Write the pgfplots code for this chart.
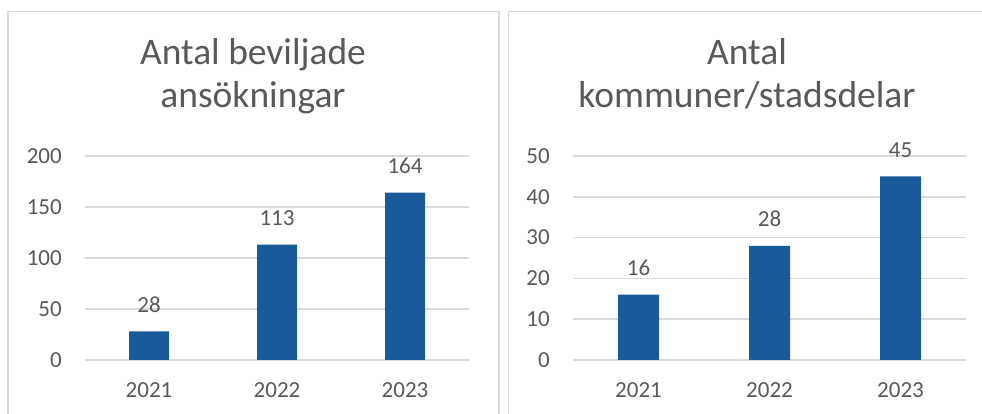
\documentclass[border=0pt]{standalone}
\usepackage{fontspec}
\setmainfont{Carlito}
\usepackage{pgfplots}
\pgfplotsset{compat=1.18}
\definecolor{barblue}{HTML}{195A9A}
\definecolor{txtgray}{HTML}{595959}
\definecolor{gridgray}{HTML}{D9D9D9}
\pgfplotsset{
  mybars/.style={
    ybar, scale only axis, enlargelimits=false, clip=false,
    xmin=-0.5, xmax=2.5, ymin=0,
    xtick={0,1,2}, xticklabels={2021,2022,2023},
    axis line style={draw=none}, major tick length=0pt,
    ymajorgrids, grid style={gridgray, line width=1.5pt},
    tick label style={text=txtgray, font=\fontsize{23}{27}\selectfont},
    /pgf/number format/assume math mode=true,
    yticklabel style={anchor=east, inner sep=0pt, xshift=-23pt},
    xticklabel style={anchor=base, inner sep=0pt, yshift=-38pt},
    nodes near coords,
    nodes near coords style={anchor=base, inner sep=0pt, yshift=19pt, text=txtgray, font=\fontsize{23}{27}\selectfont},
  }
}
\begin{document}
\begin{tikzpicture}[x=1pt,y=1pt]
\clip (0pt,0pt) rectangle (982pt,414pt);
\draw[gridgray, line width=1.5pt] (8pt,-20pt) rectangle (499pt,402.5pt);
\draw[gridgray, line width=1.5pt] (508.5pt,-20pt) rectangle (1000pt,402.5pt);
\node[anchor=base, text=txtgray, font=\fontsize{37.5}{45}\selectfont, inner sep=0pt] at (253pt,349pt) {Antal beviljade};
\node[anchor=base, text=txtgray, font=\fontsize{37.5}{45}\selectfont, inner sep=0pt] at (253pt,306pt) {ansökningar};
\node[anchor=base, text=txtgray, font=\fontsize{37.5}{45}\selectfont, inner sep=0pt] at (747pt,349pt) {Antal};
\node[anchor=base, text=txtgray, font=\fontsize{37.5}{45}\selectfont, inner sep=0pt] at (747pt,306pt) {kommuner/stadsdelar};
\begin{axis}[mybars, at={(85pt,54pt)}, anchor=south west, width=384pt, height=204pt,
  ymax=200, ytick={0,50,100,150,200}, bar width=40pt]
\addplot[fill=barblue, draw=none] coordinates {(0,28) (1,113) (2,164)};
\end{axis}
\begin{axis}[mybars, at={(573pt,54pt)}, anchor=south west, width=393pt, height=204pt,
  ymax=50, ytick={0,10,20,30,40,50}, bar width=41pt]
\addplot[fill=barblue, draw=none] coordinates {(0,16) (1,28) (2,45)};
\end{axis}
\end{tikzpicture}
\end{document}
